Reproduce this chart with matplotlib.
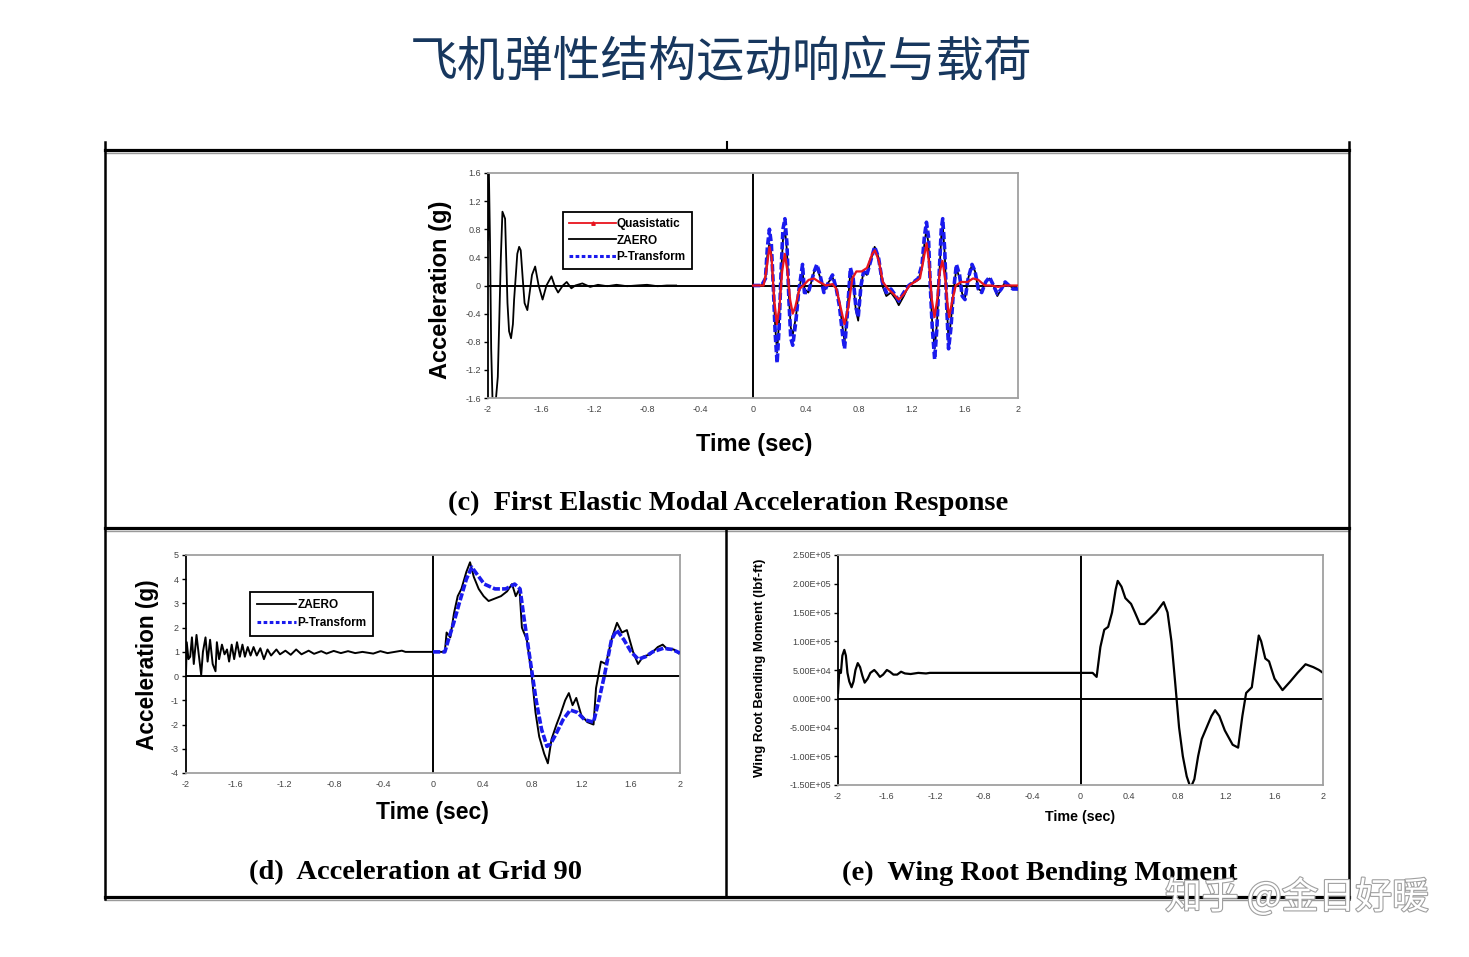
import matplotlib.pyplot as plt
from matplotlib.lines import Line2D
import matplotlib.patheffects as pe

# ---- data ----
x_ticks = [-2, -1.6, -1.2, -0.8, -0.4, 0, 0.4, 0.8, 1.2, 1.6, 2]
x_ticklabels = ["-2", "-1.6", "-1.2", "-0.8", "-0.4", "0", "0.4", "0.8", "1.2", "1.6", "2"]

# (c) first elastic modal acceleration
c_yticks = [-1.6, -1.2, -0.8, -0.4, 0, 0.4, 0.8, 1.2, 1.6]
c_yticklabels = ["-1.6", "-1.2", "-0.8", "-0.4", "0", "0.4", "0.8", "1.2", "1.6"]

c_pre_t = [-2.0, -1.994, -1.985, -1.976, -1.965, -1.944, -1.926, -1.915, -1.903, -1.891, -1.871,
           -1.853, -1.841, -1.826, -1.812, -1.803, -1.788, -1.779, -1.765, -1.753, -1.738, -1.724,
           -1.703, -1.682, -1.668, -1.644, -1.618, -1.588, -1.559, -1.521, -1.494, -1.471, -1.435,
           -1.406, -1.371, -1.341, -1.288, -1.229, -1.17, -1.1, -1.03, -0.95, -0.88, -0.8, -0.72,
           -0.65, -0.58]
c_pre_a = [0.65, 1.7, 0.65, -0.9, -1.7, -1.7, -1.3, -0.5, 0.4, 1.05, 0.95,
           -0.25, -0.65, -0.75, -0.55, -0.2, 0.2, 0.45, 0.55, 0.5, 0.1, -0.25,
           -0.35, -0.05, 0.15, 0.27, 0.0, -0.2, 0.0, 0.13, -0.02, -0.1, 0.0,
           0.05, -0.04, 0.0, 0.03, -0.02, 0.01, -0.01, 0.01, -0.01, 0.0, 0.01, -0.01,
           0.0, 0.0]

c_t = [0.0, 0.065, 0.094, 0.109, 0.124, 0.138, 0.153, 0.168, 0.182, 0.197, 0.212, 0.226,
       0.241, 0.256, 0.271, 0.285, 0.3, 0.324, 0.344, 0.374, 0.388, 0.418, 0.462, 0.482,
       0.506, 0.535, 0.571, 0.6, 0.629, 0.653, 0.676, 0.691, 0.712, 0.735, 0.756, 0.776,
       0.794, 0.815, 0.835, 0.859, 0.888, 0.918, 0.947, 0.976, 1.006, 1.041, 1.079, 1.1,
       1.138, 1.176, 1.212, 1.247, 1.276, 1.294, 1.309, 1.324, 1.338, 1.353, 1.371, 1.388,
       1.406, 1.421, 1.432, 1.447, 1.462, 1.476, 1.494, 1.512, 1.535, 1.559, 1.579, 1.6,
       1.624, 1.653, 1.676, 1.7, 1.726, 1.756, 1.785, 1.815, 1.844, 1.874, 1.903, 1.932,
       1.962, 2.0]
c_ptrans = [0.0, 0.0, 0.1, 0.55, 0.8, 0.6, 0.0, -0.7, -1.1, -0.6, 0.2, 0.8,
            0.95, 0.6, -0.2, -0.75, -0.85, -0.5, -0.1, 0.3, -0.1, -0.1, 0.2, 0.3,
            0.15, -0.1, 0.05, 0.15, -0.05, -0.3, -0.7, -0.9, -0.4, 0.25, 0.1, -0.3,
            -0.45, 0.0, 0.2, 0.15, 0.35, 0.55, 0.4, 0.05, -0.1, -0.05, -0.15, -0.22,
            -0.1, 0.0, 0.05, 0.1, 0.3, 0.7, 0.9, 0.7, 0.0, -0.6, -1.05, -0.6,
            0.2, 0.8, 0.95, 0.5, -0.3, -0.9, -0.6, -0.1, 0.3, 0.15, -0.15, -0.2,
            0.1, 0.3, 0.2, -0.05, -0.1, 0.05, 0.12, 0.0, -0.12, -0.05, 0.05, 0.0,
            -0.05, -0.05]
c_zaero = [0.0, 0.0, 0.1, 0.45, 0.6, 0.45, 0.0, -0.6, -0.95, -0.5, 0.15, 0.65,
           0.8, 0.5, -0.15, -0.6, -0.7, -0.45, -0.1, 0.2, -0.05, -0.1, 0.2, 0.25,
           0.12, -0.08, 0.05, 0.12, -0.05, -0.25, -0.6, -0.8, -0.35, 0.2, 0.05, -0.35,
           -0.5, 0.0, 0.2, 0.15, 0.35, 0.55, 0.4, 0.0, -0.15, -0.1, -0.2, -0.28,
           -0.15, 0.0, 0.05, 0.08, 0.25, 0.6, 0.8, 0.6, 0.0, -0.55, -0.9, -0.55,
           0.15, 0.7, 0.85, 0.45, -0.25, -0.8, -0.5, -0.1, 0.25, 0.1, -0.12, -0.18,
           0.1, 0.3, 0.2, -0.05, -0.08, 0.05, 0.1, 0.0, -0.15, -0.05, 0.05, 0.0,
           -0.03, -0.03]
c_qs_t = [0.0, 0.08, 0.1, 0.124, 0.14, 0.16, 0.18, 0.2, 0.22, 0.24, 0.26, 0.28, 0.3, 0.32,
          0.35, 0.38, 0.42, 0.46, 0.5, 0.55, 0.6, 0.63, 0.66, 0.69, 0.72, 0.75, 0.78, 0.82,
          0.86, 0.9, 0.92, 0.95, 0.98, 1.02, 1.06, 1.1, 1.14, 1.18, 1.22, 1.26, 1.29, 1.31,
          1.33, 1.35, 1.37, 1.39, 1.41, 1.43, 1.45, 1.47, 1.48, 1.5, 1.53, 1.57, 1.62, 1.66,
          1.7, 1.75, 1.8, 1.85, 1.9, 2.0]
c_qs = [0.0, 0.0, 0.2, 0.55, 0.4, -0.2, -0.55, -0.3, 0.2, 0.45, 0.2, -0.2, -0.4, -0.3,
        -0.05, 0.0, 0.08, 0.1, 0.05, 0.0, 0.02, -0.05, -0.3, -0.55, -0.3, 0.1, 0.2, 0.2,
        0.25, 0.45, 0.5, 0.35, 0.05, -0.05, -0.12, -0.2, -0.12, 0.0, 0.05, 0.1, 0.4, 0.6,
        0.3, -0.2, -0.45, -0.2, 0.2, 0.35, 0.1, -0.3, -0.45, -0.25, 0.0, 0.05, 0.05, 0.1,
        0.08, 0.0, 0.0, -0.02, 0.0, 0.0]

# (d) acceleration at grid 90
d_yticks = [-4, -3, -2, -1, 0, 1, 2, 3, 4, 5]
d_yticklabels = ["-4", "-3", "-2", "-1", "0", "1", "2", "3", "4", "5"]
d_zaero_t = [-2.0, -1.994, -1.98, -1.966, -1.952, -1.937, -1.915, -1.897, -1.877, -1.863,
             -1.842, -1.825, -1.805, -1.784, -1.761, -1.75, -1.732, -1.709, -1.688, -1.668,
             -1.651, -1.63, -1.61, -1.587, -1.564, -1.543, -1.523, -1.5, -1.477, -1.453,
             -1.427, -1.398, -1.369, -1.34, -1.311, -1.268, -1.239, -1.195, -1.152, -1.108,
             -1.065, -1.007, -0.963, -0.905, -0.862, -0.804, -0.746, -0.688, -0.63, -0.571,
             -0.484, -0.426, -0.368, -0.252, -0.223,
             0.0, 0.096, 0.11, 0.14, 0.17, 0.2, 0.23, 0.27, 0.3, 0.33, 0.37, 0.41, 0.45,
             0.5, 0.55, 0.6, 0.64, 0.67, 0.7, 0.72, 0.76, 0.8, 0.83, 0.86, 0.9, 0.93,
             0.96, 1.0, 1.03, 1.07, 1.1, 1.13, 1.16, 1.2, 1.25, 1.3, 1.32, 1.36, 1.4,
             1.45, 1.49, 1.53, 1.57, 1.62, 1.66, 1.7, 1.76, 1.82, 1.86, 1.9, 1.95, 2.0]
d_zaero = [0.1, 1.4, 0.7, 0.8, 1.6, 0.5, 1.7, 0.9, 0.05, 1.0,
           1.6, 0.6, 1.5, 0.5, 0.2, 1.4, 0.7, 1.3, 0.9, 1.1,
           0.6, 1.3, 0.7, 1.4, 0.8, 1.3, 0.8, 1.2, 0.85, 1.2,
           0.85, 1.15, 0.7, 1.1, 0.85, 1.1, 0.9, 1.05, 0.88, 1.1,
           0.9, 1.05, 0.92, 1.03, 0.93, 1.04, 0.95, 1.03, 0.95, 1.0,
           0.93, 1.03, 0.95, 1.05, 1.0,
           1.0, 1.0, 1.8, 1.6, 2.6, 3.3, 3.6, 4.3, 4.7, 4.1, 3.6, 3.3, 3.1,
           3.2, 3.3, 3.5, 3.8, 3.3, 3.6, 2.0, 1.5, 0.0, -1.5, -2.5, -3.2, -3.6,
           -2.6, -2.0, -1.6, -1.0, -0.7, -1.2, -0.9, -1.6, -1.9, -2.0, -0.5, 0.6, 0.5,
           1.6, 2.2, 1.8, 1.9, 1.0, 0.5, 0.8, 0.9, 1.2, 1.3, 1.1, 1.1, 0.9]
d_pt_t = [0.0, 0.096, 0.125, 0.168, 0.212, 0.27, 0.314, 0.357, 0.415, 0.502, 0.589, 0.661,
          0.705, 0.734, 0.777, 0.806, 0.835, 0.879, 0.923, 0.952, 0.995, 1.053, 1.111,
          1.169, 1.227, 1.3, 1.343, 1.387, 1.445, 1.488, 1.546, 1.604, 1.662, 1.72, 1.778,
          1.865, 1.938, 2.0]
d_ptrans = [1.0, 1.0, 1.5, 2.2, 3.0, 4.0, 4.5, 4.2, 3.8, 3.6, 3.6, 3.8,
            3.6, 2.5, 1.0, 0.0, -1.0, -2.2, -2.9, -2.8, -2.4, -1.8, -1.4,
            -1.5, -1.8, -1.9, -1.0, 0.0, 1.5, 1.9, 1.5, 1.0, 0.7, 0.8, 1.0,
            1.15, 1.1, 0.95]

# (e) wing root bending moment, lbf-ft
e_yticks = [-1.5e5, -1.0e5, -0.5e5, 0, 0.5e5, 1.0e5, 1.5e5, 2.0e5, 2.5e5]
e_yticklabels = ["-1.50E+05", "-1.00E+05", "-5.00E+04", "0.00E+00", "5.00E+04",
                 "1.00E+05", "1.50E+05", "2.00E+05", "2.50E+05"]
e_t = [-2.0, -1.989, -1.976, -1.964, -1.948, -1.935, -1.922, -1.907, -1.888, -1.872,
       -1.856, -1.837, -1.818, -1.799, -1.78, -1.755, -1.733, -1.701, -1.679, -1.654,
       -1.628, -1.597, -1.572, -1.543, -1.512, -1.48, -1.448, -1.401, -1.338, -1.274,
       -1.243, 0.0, 0.1, 0.133, 0.164, 0.196, 0.228, 0.26, 0.29, 0.307, 0.338, 0.37,
       0.417, 0.449, 0.49, 0.528, 0.576, 0.623, 0.686, 0.718, 0.75, 0.78, 0.813, 0.844,
       0.876, 0.908, 0.939, 0.97, 1.0, 1.04, 1.08, 1.11, 1.145, 1.19, 1.255, 1.3, 1.335,
       1.366, 1.413, 1.445, 1.47, 1.49, 1.524, 1.555, 1.6, 1.666, 1.73, 1.79, 1.856,
       1.92, 1.967, 2.0]
e_m = [0.1, 0.5, 0.45, 0.75, 0.85, 0.75, 0.45, 0.3, 0.2, 0.3,
       0.5, 0.62, 0.55, 0.4, 0.28, 0.35, 0.45, 0.5, 0.45, 0.38,
       0.42, 0.5, 0.47, 0.42, 0.42, 0.47, 0.44, 0.43, 0.45, 0.44,
       0.45, 0.45, 0.45, 0.38, 0.9, 1.2, 1.25, 1.5, 1.9, 2.05, 1.95, 1.75,
       1.65, 1.5, 1.3, 1.3, 1.4, 1.5, 1.68, 1.5, 1.0, 0.3, -0.5, -1.0,
       -1.35, -1.55, -1.4, -1.0, -0.7, -0.5, -0.3, -0.2, -0.3, -0.55, -0.8, -0.85, -0.3,
       0.1, 0.2, 0.7, 1.1, 1.0, 0.7, 0.65, 0.35, 0.15, 0.3, 0.45, 0.6,
       0.55, 0.5, 0.45]
e_m = [v * 1e5 for v in e_m]

# ---- figure ----
W, H = 1469, 957
plt.rcParams['font.family'] = ['Liberation Sans', 'DejaVu Sans']
fig = plt.figure(figsize=(W / 100, H / 100), dpi=100)


def box(x0, y0, x1, y1):
    return [x0 / W, 1 - y1 / H, (x1 - x0) / W, (y1 - y0) / H]


frame = fig.add_axes([0, 0, 1, 1])
frame.set_xlim(0, W)
frame.set_ylim(H, 0)
frame.axis('off')

# table rules
for y in [150, 528, 897]:
    frame.plot([105, 1349], [y + 3, y + 3], color='#9a9a9a', lw=1.0)
    frame.plot([105, 1349], [y, y], color='black', lw=2.3)
for x in [105, 1349]:
    frame.plot([x, x], [142, 899], color='black', lw=1.8)
frame.plot([727, 727], [142, 150], color='black', lw=1.5)
frame.plot([726, 726], [528, 897], color='black', lw=1.8)

frame.text(721, 63, "飞机弹性结构运动响应与载荷", fontsize=34.5, color='#17375e',
           family=['Noto Sans CJK SC', 'DejaVu Sans'], ha='center', va='center')

cap = dict(family='Liberation Serif', weight='bold', fontsize=20.5, ha='center', va='center')
frame.text(728, 503, "(c)  First Elastic Modal Acceleration Response", **cap)
frame.text(416, 873, "(d)  Acceleration at Grid 90", **cap)
frame.text(1040, 873, "(e)  Wing Root Bending Moment", **cap)

lab = dict(weight='bold', ha='center', va='center')
frame.text(441, 290, "Acceleration (g)", fontsize=17, rotation=90, **lab)
frame.text(754, 444, "Time (sec)", fontsize=17, **lab)
frame.text(148, 665, "Acceleration (g)", fontsize=16.3, rotation=90, **lab)
frame.text(432, 812, "Time (sec)", fontsize=16.5, **lab)
frame.text(760, 668, "Wing Root Bending Moment (lbf-ft)", fontsize=9.5, rotation=90, **lab)
frame.text(1080, 817, "Time (sec)", fontsize=10.3, **lab)


def style(ax, ylim, yticks, yticklabels):
    ax.set_xlim(-2, 2)
    ax.set_ylim(*ylim)
    for s in ax.spines.values():
        s.set_color('#a0a0a0')
        s.set_linewidth(1.3)
    ax.spines['left'].set_color('black')
    ax.spines['left'].set_linewidth(1.3)
    ax.axhline(0, color='black', lw=1.4, zorder=1)
    ax.axvline(0, color='black', lw=1.4, zorder=1)
    ax.set_xticks(x_ticks)
    ax.set_xticklabels(x_ticklabels)
    ax.set_yticks(yticks)
    ax.set_yticklabels(yticklabels)
    ax.tick_params(axis='x', length=0, pad=5, labelsize=6.5, labelcolor='#444444')
    ax.tick_params(axis='y', length=3, width=1, direction='out', pad=2,
                   labelsize=6.5, labelcolor='#444444')


red, blue = '#e8141e', '#1a1aee'

# (c)
axc = fig.add_axes(box(488, 173, 1018, 398))
style(axc, (-1.6, 1.6), c_yticks, c_yticklabels)
axc.plot(c_pre_t, c_pre_a, color='black', lw=1.3, zorder=2)
axc.plot(c_t, c_zaero, color='black', lw=1.3, zorder=2)
axc.plot(c_t, c_ptrans, color=blue, lw=2.6, ls=(0, (2, 0.8)), zorder=3)
axc.plot(c_qs_t, c_qs, color=red, lw=1.6, zorder=4)
hc = [Line2D([], [], color=red, lw=1.3, marker='^', markersize=2.5, markevery=[1]),
      Line2D([], [], color='black', lw=1.3),
      Line2D([], [], color=blue, lw=2.2, ls=(0, (1.2, 0.8)))]
lg = axc.legend(hc, ["Quasistatic", "ZAERO", "P-Transform"], loc='upper left',
                bbox_to_anchor=(0.1415, 0.827), prop={'weight': 'bold', 'size': 8.5},
                handlelength=3.9, handletextpad=0.1, labelspacing=0.35, borderpad=0.55,
                fancybox=False, framealpha=1, borderaxespad=0)
lg.get_frame().set_edgecolor('black')
lg.get_frame().set_linewidth(1.3)

# (d)
axd = fig.add_axes(box(186, 555, 680, 773))
style(axd, (-4, 5), d_yticks, d_yticklabels)
axd.plot(d_zaero_t, d_zaero, color='black', lw=1.4, zorder=2)
axd.plot(d_pt_t, d_ptrans, color=blue, lw=2.6, ls=(0, (2, 0.6)), zorder=3)
hd = [Line2D([], [], color='black', lw=1.3),
      Line2D([], [], color=blue, lw=2.2, ls=(0, (1.2, 0.8)))]
lg = axd.legend(hd, ["ZAERO", "P-Transform"], loc='upper left',
                bbox_to_anchor=(0.1296, 0.83), prop={'weight': 'bold', 'size': 8.5},
                handlelength=3.3, handletextpad=0.1, labelspacing=0.5, borderpad=0.6,
                fancybox=False, framealpha=1, borderaxespad=0)
lg.get_frame().set_edgecolor('black')
lg.get_frame().set_linewidth(1.3)

# (e)
axe = fig.add_axes(box(838, 555, 1323, 785))
style(axe, (-1.5e5, 2.5e5), e_yticks, e_yticklabels)
axe.plot(e_t, e_m, color='black', lw=1.6, zorder=2)

# watermark
fig.text(1165 / W, 1 - 898 / H, "知乎 @金日好暖", fontsize=26.5, color='white',
         family=['Noto Sans CJK SC', 'DejaVu Sans'], ha='left', va='center', zorder=10,
         path_effects=[pe.withStroke(linewidth=1.6, foreground='#a0a0a0')])

fig.savefig('out.png', dpi=100)
